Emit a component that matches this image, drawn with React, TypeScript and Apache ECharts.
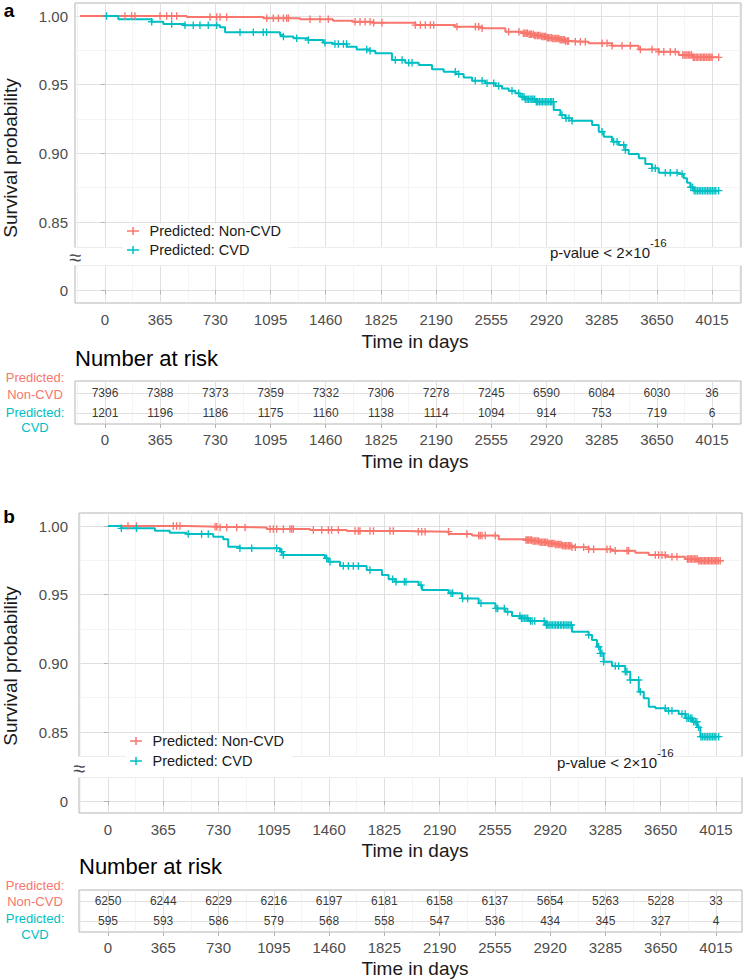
import React, { useEffect, useRef } from 'react';
import * as echarts from 'echarts';

const RED = '#F8766D';
const CYAN = '#00BFC4';
const FONT = '"Liberation Sans", Arial, Helvetica, sans-serif';
const BORDER = '#B3B3B3';
const GRID_MAJOR = '#E0E0E0';
const GRID_MINOR = '#EDEDED';
const TICK_TEXT = '#4D4D4D';

const groupNames = ['Predicted: Non-CVD', 'Predicted: CVD'];
const timeTicks = [0, 365, 730, 1095, 1460, 1825, 2190, 2555, 2920, 3285, 3650, 4015];
const timeMinorTicks = [-182.5, 182.5, 547.5, 912.5, 1277.5, 1642.5, 2007.5, 2372.5, 2737.5, 3102.5, 3467.5, 3832.5, 4197.5];
const survTicks = [0.85, 0.9, 0.95, 1.0];
const survMinorTicks = [0.875, 0.925, 0.975];

// Panel a: number at risk
const riskANon = [7396, 7388, 7373, 7359, 7332, 7306, 7278, 7245, 6590, 6084, 6030, 36];
const riskACvd = [1201, 1196, 1186, 1175, 1160, 1138, 1114, 1094, 914, 753, 719, 6];
// Panel b: number at risk
const riskBNon = [6250, 6244, 6229, 6216, 6197, 6181, 6158, 6137, 5654, 5263, 5228, 33];
const riskBCvd = [595, 593, 586, 579, 568, 558, 547, 536, 434, 345, 327, 4];

// Kaplan-Meier steps [time, survival]
const curveANon = [[-165, 1.0], [540, 0.9993], [1047, 0.9983], [1290, 0.9976], [1508, 0.9966], [1640, 0.9958], [1770, 0.9951], [2053, 0.9934], [2317, 0.9922], [2494, 0.991], [2648, 0.9886], [2758, 0.9874], [2801, 0.9867], [2838, 0.9858], [2884, 0.9851], [2921, 0.9842], [2957, 0.9836], [3003, 0.9827], [3041, 0.9818], [3067, 0.9813], [3199, 0.9801], [3354, 0.9784], [3530, 0.9757], [3663, 0.974], [3795, 0.9716], [3883, 0.9699], [4059, 0.9699]];
const curveACvd = [[0, 1.0], [88, 0.9976], [309, 0.9958], [386, 0.9942], [529, 0.9932], [760, 0.9918], [794, 0.9881], [1158, 0.9862], [1180, 0.985], [1246, 0.9838], [1343, 0.9825], [1443, 0.9806], [1508, 0.9796], [1599, 0.9776], [1665, 0.9757], [1753, 0.9747], [1788, 0.9728], [1898, 0.968], [1986, 0.966], [2075, 0.9643], [2163, 0.9612], [2240, 0.9594], [2318, 0.9578], [2372, 0.9553], [2428, 0.9529], [2516, 0.951], [2582, 0.949], [2626, 0.9473], [2670, 0.9456], [2714, 0.9437], [2747, 0.9412], [2780, 0.9393], [2846, 0.9376], [2968, 0.9316], [3012, 0.9279], [3045, 0.9255], [3089, 0.9238], [3222, 0.9206], [3266, 0.9158], [3299, 0.9121], [3354, 0.9085], [3398, 0.9061], [3442, 0.9024], [3464, 0.8995], [3531, 0.8964], [3574, 0.8922], [3618, 0.8891], [3663, 0.8859], [3795, 0.885], [3828, 0.8818], [3850, 0.8786], [3872, 0.8753], [3894, 0.8728], [4059, 0.8728]];
const curveBNon = [[0, 1.0], [518, 0.9995], [739, 0.999], [1048, 0.9978], [1334, 0.9971], [1577, 0.9964], [1963, 0.9959], [2250, 0.9942], [2404, 0.993], [2580, 0.9903], [2756, 0.9898], [2802, 0.989], [2847, 0.9882], [2903, 0.9873], [2948, 0.9866], [3001, 0.9857], [3064, 0.9845], [3174, 0.983], [3328, 0.982], [3482, 0.9806], [3571, 0.9789], [3681, 0.9777], [3813, 0.976], [3901, 0.9747], [4043, 0.9747]];
const curveBCvd = [[0, 1.0], [88, 0.9983], [310, 0.9966], [408, 0.9951], [518, 0.9942], [695, 0.9922], [761, 0.9903], [794, 0.9849], [871, 0.9838], [1136, 0.9813], [1158, 0.9789], [1433, 0.9765], [1455, 0.974], [1532, 0.9709], [1708, 0.968], [1809, 0.9643], [1853, 0.9612], [1897, 0.9594], [2052, 0.957], [2074, 0.9534], [2250, 0.951], [2338, 0.9473], [2448, 0.9437], [2558, 0.94], [2624, 0.9376], [2668, 0.9345], [2723, 0.9328], [2778, 0.9308], [2888, 0.9279], [3064, 0.923], [3174, 0.9206], [3196, 0.917], [3229, 0.9121], [3251, 0.9073], [3273, 0.9012], [3328, 0.898], [3416, 0.8939], [3449, 0.8879], [3505, 0.8793], [3538, 0.8745], [3571, 0.8684], [3615, 0.8673], [3681, 0.8655], [3769, 0.8631], [3813, 0.86], [3857, 0.8575], [3890, 0.8534], [3912, 0.8466], [4033, 0.8466]];

// Censoring times
const censANon = [132, 176, 198, 364, 408, 441, 474, 695, 739, 761, 805, 1070, 1113, 1147, 1180, 1202, 1213, 1356, 1422, 1477, 1654, 1687, 1720, 1753, 1777, 1832, 2053, 2086, 2119, 2152, 2174, 2328, 2450, 2472, 2494, 2670, 2738, 2768, 2777, 2786, 2794, 2805, 2813, 2822, 2833, 2841, 2850, 2861, 2869, 2878, 2889, 2897, 2906, 2915, 2926, 2934, 2943, 2954, 2962, 2971, 2982, 2990, 3001, 3010, 3019, 3030, 3038, 3047, 3058, 3066, 3111, 3144, 3177, 3288, 3321, 3354, 3420, 3475, 3541, 3618, 3663, 3696, 3739, 3772, 3822, 3831, 3842, 3850, 3861, 3869, 3880, 3891, 3899, 3910, 3918, 3929, 3940, 3948, 3959, 3967, 3978, 3989, 3997, 4008, 4016, 4059];
const censACvd = [10, 309, 441, 529, 584, 628, 683, 739, 893, 981, 1047, 1069, 1180, 1268, 1345, 1455, 1521, 1543, 1577, 1598, 1731, 1753, 1920, 1965, 2009, 2031, 2317, 2340, 2449, 2494, 2527, 2571, 2604, 2692, 2736, 2760, 2771, 2780, 2792, 2801, 2812, 2823, 2831, 2842, 2853, 2862, 2873, 2884, 2893, 2904, 2915, 2924, 2935, 2946, 2955, 2966, 3023, 3049, 3069, 3089, 3288, 3365, 3387, 3431, 3442, 3618, 3640, 3706, 3739, 3784, 3817, 3875, 3886, 3897, 3908, 3919, 3930, 3941, 3952, 3963, 3974, 3985, 3996, 4007, 4018, 4029, 4040, 4059];
const censBNon = [132, 188, 431, 453, 475, 707, 718, 740, 784, 850, 905, 1070, 1092, 1114, 1158, 1202, 1213, 1224, 1356, 1411, 1455, 1477, 1521, 1631, 1653, 1664, 1730, 1753, 1862, 1884, 2049, 2072, 2094, 2249, 2370, 2448, 2458, 2470, 2491, 2557, 2760, 2769, 2778, 2788, 2797, 2806, 2816, 2825, 2834, 2844, 2853, 2862, 2872, 2881, 2890, 2900, 2909, 2918, 2928, 2937, 2946, 2956, 2965, 2974, 2984, 2993, 3002, 3012, 3021, 3030, 3040, 3049, 3058, 3064, 3086, 3141, 3174, 3207, 3295, 3317, 3350, 3427, 3438, 3614, 3636, 3658, 3680, 3724, 3757, 3826, 3835, 3845, 3854, 3863, 3873, 3882, 3891, 3901, 3910, 3919, 3929, 3938, 3947, 3957, 3966, 3975, 3985, 3994, 4003, 4013, 4022, 4031, 4043];
const censBCvd = [88, 188, 530, 618, 662, 871, 949, 1114, 1147, 1158, 1444, 1466, 1554, 1587, 1620, 1653, 1730, 1880, 1902, 1957, 1968, 2067, 2265, 2276, 2342, 2375, 2463, 2562, 2573, 2617, 2639, 2720, 2731, 2740, 2752, 2761, 2772, 2790, 2801, 2818, 2880, 2895, 2904, 2913, 2925, 2934, 2946, 2955, 2967, 2976, 2988, 2997, 3009, 3018, 3030, 3039, 3051, 3060, 3174, 3240, 3251, 3262, 3273, 3350, 3372, 3416, 3427, 3449, 3504, 3515, 3680, 3702, 3724, 3790, 3812, 3823, 3834, 3845, 3856, 3867, 3878, 3889, 3900, 3915, 3926, 3937, 3948, 3959, 3970, 3981, 3992, 4003, 4014, 4033];

const PLUS = 'path://M-0.18,-1H0.18V-0.18H1V0.18H0.18V1H-0.18V0.18H-1V-0.18H-0.18Z';
const LEGEND_ICON = 'path://M0,3.25H5.25V0H6.75V3.25H12V4.75H6.75V8H5.25V4.75H0Z';

function survAt(curve: number[][], t: number): number {
  let s = curve[0][1];
  for (const [ct, cs] of curve) {
    if (ct <= t) s = cs;
    else break;
  }
  return s;
}

type Panel = {
  letter: string; letterY: number;
  left: number; width: number; xMin: number; xMax: number;
  upperTop: number; upperH: number; yMin: number; yMax: number;
  lowerTop: number; lowerH: number; lowMin: number; lowMax: number;
  tableTop: number; tableH: number; tMin: number; tMax: number;
  yLabelMargin: number; lowLabelMargin: number; tabLabelMargin: number;
  non: number[][]; cvd: number[][]; nonCens: number[]; cvdCens: number[];
  riskNon: number[]; riskCvd: number[];
  legendLeft: number; legendTop: number; legendGap: number;
  pX: number; pY: number; supY: number;
  breakY: number; titleY: number; xTitleY: number; riskTitleY: number; tableXTitleY: number;
  rowLabelY: number[];
};

const panels: Panel[] = [
  {
    letter: 'a', letterY: 10,
    left: 75, width: 666, xMin: -198.4, xMax: 4206.8,
    upperTop: 3, upperH: 245, yMin: 0.83107, yMax: 1.00947,
    lowerTop: 265, lowerH: 38, lowMin: -12.7, lowMax: 25.3,
    tableTop: 381, tableH: 43, tMin: 0.45, tMax: 2.6,
    yLabelMargin: 7, lowLabelMargin: 9, tabLabelMargin: 7.5,
    non: curveANon, cvd: curveACvd, nonCens: censANon, cvdCens: censACvd,
    riskNon: riskANon, riskCvd: riskACvd,
    legendLeft: 123, legendTop: 223.5, legendGap: 4,
    pX: 650, pY: 252, supY: 243,
    breakY: 257, titleY: 158, xTitleY: 341, riskTitleY: 358, tableXTitleY: 461,
    rowLabelY: [377, 394, 412, 427],
  },
  {
    letter: 'b', letterY: 516,
    left: 79, width: 663, xMin: -191.5, xMax: 4186.7,
    upperTop: 513, upperH: 244, yMin: 0.8318, yMax: 1.00947,
    lowerTop: 777, lowerH: 36, lowMin: -12, lowMax: 24,
    tableTop: 890, tableH: 42, tMin: 0.45, tMax: 2.55,
    yLabelMargin: 11, lowLabelMargin: 8.5, tabLabelMargin: 7.5,
    non: curveBNon, cvd: curveBCvd, nonCens: censBNon, cvdCens: censBCvd,
    riskNon: riskBNon, riskCvd: riskBCvd,
    legendLeft: 126, legendTop: 733.5, legendGap: 5,
    pX: 657, pY: 762, supY: 753,
    breakY: 768, titleY: 666, xTitleY: 850, riskTitleY: 866, tableXTitleY: 968,
    rowLabelY: [885, 901, 918, 934],
  },
];

function txt(text: string, x: number, y: number, size: number, fill: string, align = 'center', extra: any = {}) {
  return {
    type: 'text', x, y, z: 10, silent: true,
    style: { text, fontSize: size, fontFamily: FONT, fill, align, verticalAlign: 'middle', ...(extra.style || {}) },
    ...(extra.el || {}),
  };
}

function buildOption() {
  const grid: any[] = [];
  const xAxis: any[] = [];
  const yAxis: any[] = [];
  const series: any[] = [];
  const legend: any[] = [];
  const graphic: any[] = [];

  panels.forEach((p, i) => {
    const gb = 3 * i;
    const xb = 6 * i;
    const yb = 4 * i;
    const rows = [
      [p.upperTop, p.upperH],
      [p.lowerTop, p.lowerH],
      [p.tableTop, p.tableH],
    ];
    rows.forEach(([top, h]) => {
      grid.push({
        left: p.left, top, width: p.width, height: h,
        show: true, borderColor: BORDER, borderWidth: 1, backgroundColor: 'rgba(0,0,0,0)',
        containLabel: false, outerBoundsMode: 'none',
      });
    });
    rows.forEach((_, k) => {
      const show = k > 0;
      xAxis.push({
        type: 'value', gridIndex: gb + k, min: p.xMin, max: p.xMax, position: 'bottom',
        axisLine: { show: false },
        axisTick: { show, customValues: timeTicks, length: 4, lineStyle: { color: BORDER } },
        axisLabel: {
          show, customValues: timeTicks, margin: k === 1 ? p.lowLabelMargin : p.tabLabelMargin,
          fontSize: 15, color: TICK_TEXT, fontFamily: FONT, formatter: (v: number) => String(v),
        },
        splitLine: { show: true, lineStyle: { color: GRID_MAJOR, width: 1 } },
      });
      xAxis.push({
        type: 'value', gridIndex: gb + k, min: p.xMin, max: p.xMax, position: 'top',
        axisLine: { show: false },
        axisTick: { show: false, customValues: timeMinorTicks },
        axisLabel: { show: false, customValues: timeMinorTicks },
        splitLine: { show: true, lineStyle: { color: GRID_MINOR, width: 0.6 } },
      });
    });
    yAxis.push({
      type: 'value', gridIndex: gb, min: p.yMin, max: p.yMax,
      axisLine: { show: false },
      axisTick: { show: true, customValues: survTicks, length: 4, lineStyle: { color: BORDER } },
      axisLabel: {
        customValues: survTicks, margin: p.yLabelMargin, fontSize: 15, color: TICK_TEXT, fontFamily: FONT,
        formatter: (v: number) => v.toFixed(2),
      },
      splitLine: { show: true, lineStyle: { color: GRID_MAJOR, width: 1 } },
    });
    yAxis.push({
      type: 'value', gridIndex: gb, min: p.yMin, max: p.yMax, position: 'right',
      axisLine: { show: false },
      axisTick: { show: false, customValues: survMinorTicks },
      axisLabel: { show: false, customValues: survMinorTicks },
      splitLine: { show: true, lineStyle: { color: GRID_MINOR, width: 0.6 } },
    });
    yAxis.push({
      type: 'value', gridIndex: gb + 1, min: p.lowMin, max: p.lowMax,
      axisLine: { show: false },
      axisTick: { show: true, customValues: [0], length: 4, lineStyle: { color: BORDER } },
      axisLabel: {
        customValues: [0], margin: p.yLabelMargin, fontSize: 15, color: TICK_TEXT, fontFamily: FONT,
        formatter: (v: number) => String(v),
      },
      splitLine: { show: true, lineStyle: { color: GRID_MAJOR, width: 1 } },
    });
    yAxis.push({
      type: 'value', gridIndex: gb + 2, min: p.tMin, max: p.tMax,
      axisLine: { show: false },
      axisTick: { show: true, customValues: [1, 2], length: 4, lineStyle: { color: BORDER } },
      axisLabel: { show: false, customValues: [1, 2] },
      splitLine: { show: true, lineStyle: { color: GRID_MAJOR, width: 1 } },
    });

    const groups = [
      { name: groupNames[0], color: RED, curve: p.non, cens: p.nonCens, risk: p.riskNon, row: 2 },
      { name: groupNames[1], color: CYAN, curve: p.cvd, cens: p.cvdCens, risk: p.riskCvd, row: 1 },
    ];
    groups.forEach((g) => {
      series.push({
        type: 'line', name: g.name, xAxisIndex: xb, yAxisIndex: yb, step: 'end',
        data: g.curve, showSymbol: false, symbol: 'none', silent: true, z: 3,
        itemStyle: { color: g.color }, lineStyle: { color: g.color, width: 2 },
      });
      series.push({
        type: 'scatter', name: g.name + ' censored', xAxisIndex: xb, yAxisIndex: yb,
        data: g.cens.map((t) => [t, survAt(g.curve, t)]), symbol: PLUS, symbolSize: 7.5,
        itemStyle: { color: g.color, opacity: 1 }, silent: true, z: 3,
      });
      series.push({
        type: 'scatter', name: g.name + ' risk', xAxisIndex: xb + 4, yAxisIndex: yb + 3,
        data: g.risk.map((v, j) => [timeTicks[j], g.row, v]), symbolSize: 1,
        itemStyle: { color: 'rgba(0,0,0,0)' }, silent: true,
        label: {
          show: true, position: 'inside', fontSize: 12, color: '#000', fontFamily: FONT,
          formatter: (q: any) => String(q.data[2]),
        },
      });
    });

    legend.push({
      data: groupNames.map((n) => ({ name: n, icon: LEGEND_ICON })),
      orient: 'vertical', left: p.legendLeft, top: p.legendTop,
      itemWidth: 13, itemHeight: 8, itemGap: p.legendGap,
      padding: [0, 8, 3, 4], backgroundColor: '#FFFFFF', selectedMode: false, z: 5,
      textStyle: { fontSize: 14.5, color: '#1A1A1A', fontFamily: FONT, padding: [0, 0, 0, 5] },
    });

    const gapTop = p.upperTop + p.upperH - 0.5;
    graphic.push({
      type: 'rect', z: 4, silent: true,
      shape: { x: p.left - 6, y: gapTop, width: 744 - p.left + 6, height: p.lowerTop + 0.5 - gapTop },
      style: { fill: '#FFFFFF' },
    });
    graphic.push(txt('\u2248', p.left, p.breakY, 22, TICK_TEXT));
    graphic.push(txt(p.letter, 9, p.letterY, 19, '#000', 'center', { style: { fontWeight: 'bold' } }));
    graphic.push(txt('Survival probability', 10, p.titleY, 19, '#1A1A1A', 'center', { el: { rotation: Math.PI / 2 } }));
    graphic.push(txt('Time in days', 415, p.xTitleY, 19, '#1A1A1A'));
    graphic.push(txt('Time in days', 415, p.tableXTitleY, 19, '#1A1A1A'));
    graphic.push(txt('Number at risk', p.left, p.riskTitleY, 22, '#000', 'left'));
    graphic.push(txt('p-value < 2\u00d710', p.pX, p.pY, 15, '#1A1A1A', 'right'));
    graphic.push(txt('-16', p.pX, p.supY, 11.5, '#1A1A1A', 'left'));
    graphic.push(txt('Predicted:', 35, p.rowLabelY[0], 13, RED));
    graphic.push(txt('Non-CVD', 35, p.rowLabelY[1], 13, RED));
    graphic.push(txt('Predicted:', 35, p.rowLabelY[2], 13, CYAN));
    graphic.push(txt('CVD', 35, p.rowLabelY[3], 13, CYAN));
  });

  return {
    animation: false,
    backgroundColor: '#FFFFFF',
    textStyle: { fontFamily: FONT },
    grid, xAxis, yAxis, series, legend, graphic,
  };
}

export default function App() {
  const ref = useRef<HTMLDivElement>(null);
  useEffect(() => {
    document.body.style.margin = '0';
    const chart = echarts.init(ref.current as HTMLDivElement, null, { renderer: 'svg', width: 744, height: 980 });
    chart.setOption(buildOption() as any);
    return () => chart.dispose();
  }, []);
  return <div ref={ref} style={{ width: 744, height: 980 }} />;
}
